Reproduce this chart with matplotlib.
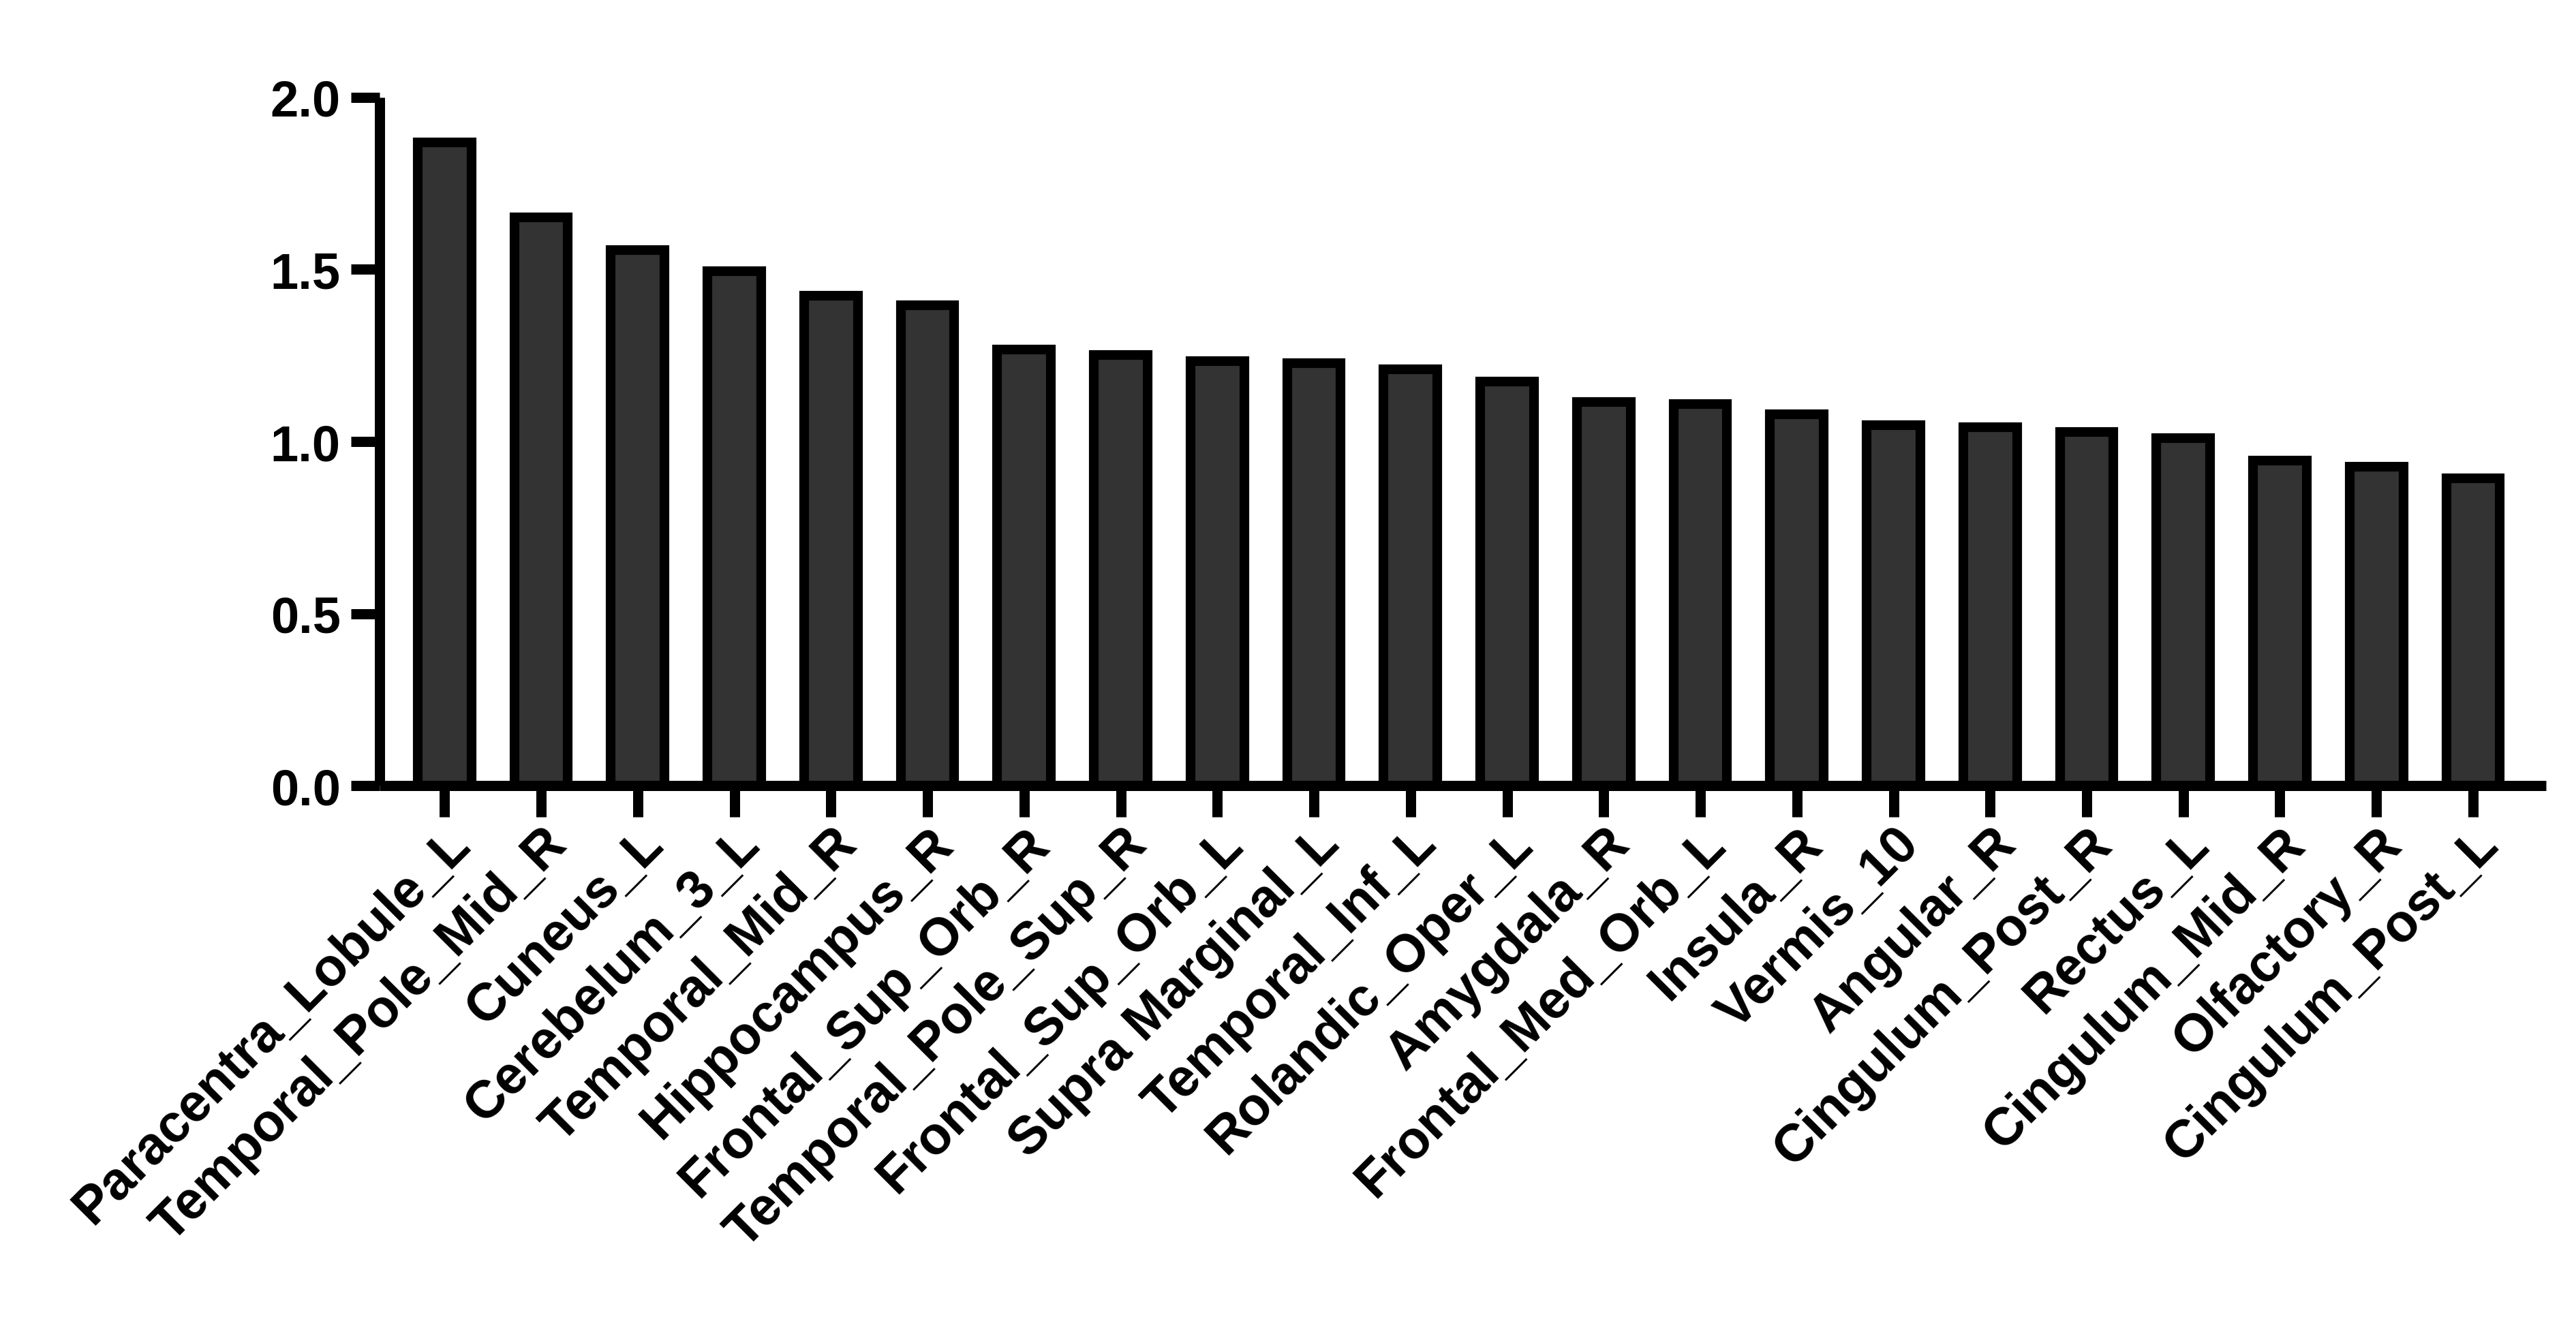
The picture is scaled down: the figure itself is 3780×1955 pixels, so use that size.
import matplotlib
matplotlib.use('Agg')
import matplotlib.pyplot as plt
import numpy as np

# brain regions, sorted by value
regions = ['Paracentra_Lobule_L', 'Temporal_Pole_Mid_R', 'Cuneus_L', 'Cerebelum_3_L',
           'Temporal_Mid_R', 'Hippocampus_R', 'Frontal_Sup_Orb_R', 'Temporal_Pole_Sup_R',
           'Frontal_Sup_Orb_L', 'Supra Marginal_L', 'Temporal_Inf_L', 'Rolandic_Oper_L',
           'Amygdala_R', 'Frontal_Med_Orb_L', 'Insula_R', 'Vermis_10', 'Angular_R',
           'Cingulum_Post_R', 'Rectus_L', 'Cingulum_Mid_R', 'Olfactory_R', 'Cingulum_Post_L']
values = [1.870, 1.652, 1.557, 1.495, 1.423, 1.397, 1.268, 1.251, 1.233, 1.227, 1.210,
          1.175, 1.115, 1.109, 1.079, 1.048, 1.042, 1.028, 1.010, 0.944, 0.926, 0.893]
yticks = [0.0, 0.5, 1.0, 1.5, 2.0]

plt.rcParams['font.family'] = ['Liberation Sans', 'DejaVu Sans']
plt.rcParams['font.weight'] = 'bold'

lw = 3.6  # ~15 px at 300 dpi

fig = plt.figure(figsize=(12.6, 6.52), dpi=300)
ax = fig.add_axes([0.1474, 0.41, 0.841, 0.5164])

x = np.arange(len(regions))
ax.bar(x, values, width=0.555, color='#333333', edgecolor='black', linewidth=3.4, zorder=3)

ax.set_xlim(-0.671, len(regions) - 1 + 0.756)
ax.set_ylim(0, 2.0)
ax.set_yticks(yticks)
ax.set_yticklabels(['%.1f' % v for v in yticks])
ax.set_xticks(x)
ax.set_xticklabels(regions, rotation=45, ha='right', va='top', rotation_mode='anchor')

for s in ['top', 'right']:
    ax.spines[s].set_visible(False)
for s in ['left', 'bottom']:
    ax.spines[s].set_linewidth(lw)
    ax.spines[s].set_capstyle('butt')

ax.tick_params(axis='y', direction='out', length=10, width=lw, pad=3.8, labelsize=17.8)
ax.tick_params(axis='x', direction='out', length=11, width=lw, pad=0.5, labelsize=18.6)
for lab in ax.get_xticklabels() + ax.get_yticklabels():
    lab.set_fontweight('bold')

fig.savefig('out.png', dpi=300)
